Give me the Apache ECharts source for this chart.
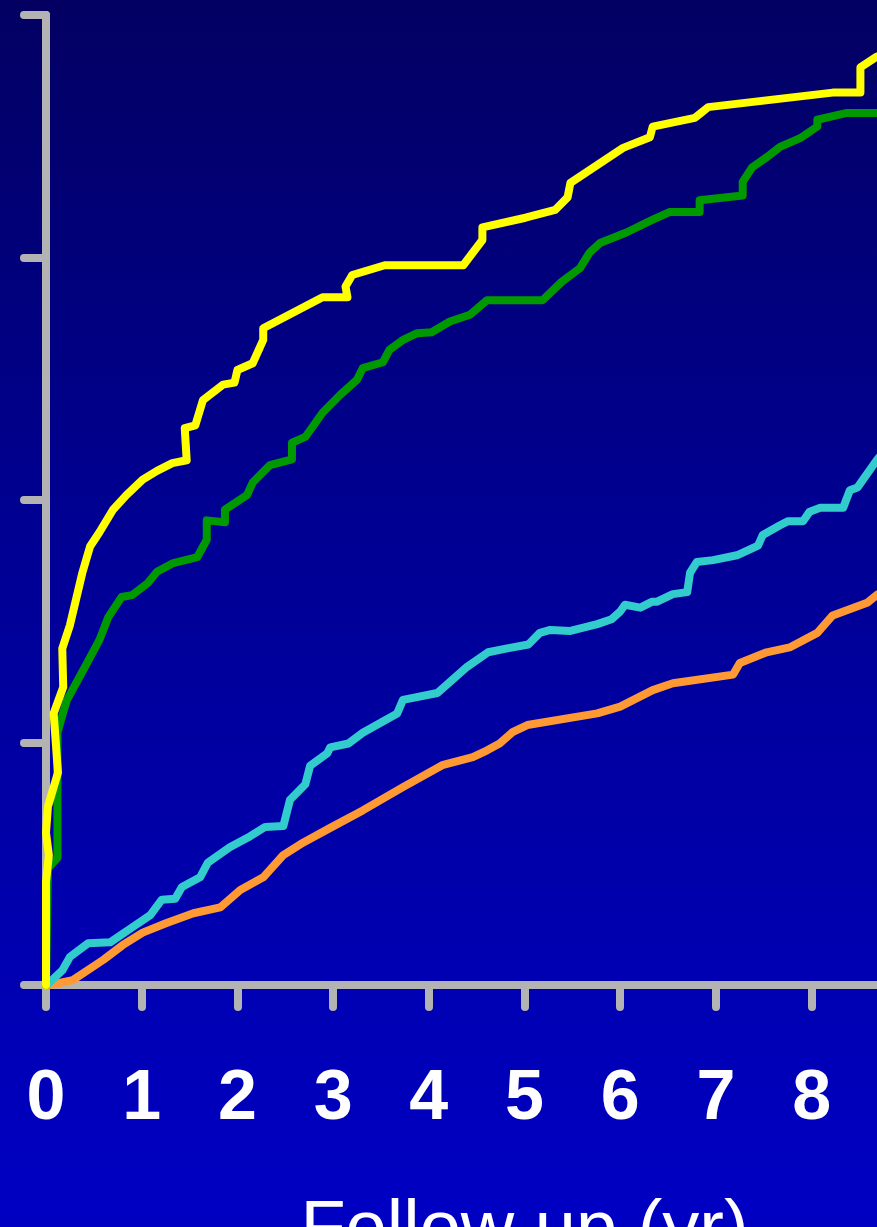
<!DOCTYPE html>
<html>
<head>
<meta charset="utf-8">
<script src="https://cdn.jsdelivr.net/npm/echarts@6/dist/echarts.min.js"></script>
<style>
  html, body { margin: 0; padding: 0; overflow: hidden; }
  #chart {
    width: 877px; height: 1227px;
    background: linear-gradient(to bottom, #030062 0%, #000090 40%, #0000c4 100%);
  }
</style>
</head>
<body>
<div id="chart"></div>
<script>
// Follow-up axis (years) and cumulative event rate (%)
const xTicks = ['0', '1', '2', '3', '4', '5', '6', '7', '8', '9', '10'];
const xAxisTitle = 'Follow up (yr)';

// Each curve: [year, percent]
const yellowCurve = [
  [0, 0], [0.0, 10.6], [0.03, 13.4], [0.0, 15.7], [0.02, 18.4], [0.125, 21.9],
  [0.08, 28.0], [0.18, 30.7], [0.17, 34.7], [0.25, 37.1], [0.38, 42.5],
  [0.46, 45.2], [0.56, 46.7], [0.70, 49.0], [0.84, 50.5], [1.01, 52.1],
  [1.16, 53.0], [1.32, 53.8], [1.47, 54.1], [1.45, 57.4], [1.56, 57.7],
  [1.64, 60.3], [1.85, 61.9], [1.97, 62.1], [2.0, 63.4], [2.16, 64.1],
  [2.27, 66.5], [2.27, 67.7], [2.89, 70.9], [3.15, 70.9], [3.13, 72.0],
  [3.20, 73.2], [3.54, 74.2], [4.36, 74.2], [4.56, 76.8], [4.56, 78.1],
  [5.01, 79.1], [5.32, 79.9], [5.45, 81.2], [5.48, 82.7], [6.03, 86.3],
  [6.31, 87.4], [6.34, 88.5], [6.78, 89.4], [6.92, 90.5], [8.22, 92.0],
  [8.51, 92.0], [8.51, 94.6], [8.68, 95.7], [9.0, 97.0]
];

const greenCurve = [
  [0, 0], [0.02, 12.0], [0.12, 13.1], [0.12, 26.0], [0.17, 27.8],
  [0.22, 29.4], [0.43, 33.2], [0.56, 35.6], [0.65, 37.9], [0.79, 40.0],
  [0.90, 40.2], [1.06, 41.4], [1.16, 42.6], [1.33, 43.5], [1.58, 44.1],
  [1.68, 45.9], [1.68, 47.9], [1.87, 47.7], [1.87, 49.0], [2.10, 50.5],
  [2.16, 51.8], [2.34, 53.6], [2.57, 54.2], [2.57, 55.9], [2.71, 56.5],
  [2.89, 59.0], [3.07, 60.8], [3.25, 62.4], [3.31, 63.6], [3.52, 64.2],
  [3.59, 65.5], [3.73, 66.5], [3.88, 67.2], [4.03, 67.3], [4.22, 68.4],
  [4.43, 69.1], [4.61, 70.6], [5.19, 70.6], [5.39, 72.5], [5.58, 73.9],
  [5.68, 75.5], [5.79, 76.5], [6.07, 77.6], [6.34, 78.9], [6.52, 79.7],
  [6.83, 79.7], [6.83, 80.9], [7.28, 81.4], [7.28, 82.8], [7.38, 84.3],
  [7.54, 85.4], [7.67, 86.4], [7.88, 87.3], [8.06, 88.5], [8.06, 89.2],
  [8.37, 89.9], [9.0, 89.9]
];

const cyanCurve = [
  [0.03, 0.2], [0.17, 1.5], [0.25, 2.9], [0.44, 4.3], [0.67, 4.4],
  [0.91, 6.0], [1.09, 7.2], [1.21, 8.8], [1.35, 8.9], [1.42, 10.1],
  [1.61, 11.1], [1.69, 12.6], [1.92, 14.2], [2.11, 15.2], [2.29, 16.3],
  [2.48, 16.4], [2.55, 19.1], [2.71, 20.7], [2.76, 22.6], [2.94, 23.9],
  [2.97, 24.5], [3.16, 24.9], [3.31, 26.0], [3.67, 28.0], [3.73, 29.4],
  [4.09, 30.1], [4.40, 32.8], [4.62, 34.3], [4.82, 34.7], [5.04, 35.1],
  [5.16, 36.3], [5.27, 36.6], [5.48, 36.5], [5.76, 37.2], [5.91, 37.7],
  [6.0, 38.5], [6.05, 39.2], [6.21, 38.9], [6.33, 39.5], [6.38, 39.5],
  [6.55, 40.3], [6.70, 40.5], [6.73, 42.5], [6.80, 43.6], [6.97, 43.8],
  [7.22, 44.3], [7.44, 45.3], [7.49, 46.4], [7.67, 47.4], [7.75, 47.8],
  [7.91, 47.8], [7.98, 48.8], [8.09, 49.2], [8.33, 49.2], [8.40, 51.0],
  [8.48, 51.3], [8.68, 54.1], [9.0, 58.0]
];

const orangeCurve = [
  [0.04, 0], [0.28, 0.5], [0.60, 2.6], [0.80, 4.1], [1.01, 5.4],
  [1.26, 6.4], [1.54, 7.4], [1.82, 8.0], [2.03, 9.8], [2.27, 11.1],
  [2.48, 13.4], [2.69, 14.7], [2.97, 16.2], [3.31, 18.0], [3.73, 20.4],
  [4.15, 22.7], [4.46, 23.5], [4.61, 24.2], [4.74, 24.9], [4.88, 26.1],
  [5.03, 26.8], [5.76, 28.0], [6.0, 28.7], [6.34, 30.4], [6.55, 31.1],
  [7.18, 32.0], [7.25, 33.2], [7.53, 34.3], [7.77, 34.8], [8.06, 36.3],
  [8.22, 38.1], [8.58, 39.4], [8.68, 40.2], [9.0, 42.0]
];

const axisGray = '#b3b3b3';

function curve(data, color) {
  return {
    type: 'line',
    data: data,
    symbol: 'none',
    smooth: false,
    animation: false,
    lineStyle: { color: color, width: 8, join: 'round', cap: 'round' }
  };
}

const chart = echarts.init(document.getElementById('chart'), null, { renderer: 'canvas' });
chart.setOption({
  backgroundColor: 'transparent',
  animation: false,
  grid: {
    left: 46, top: 15, width: 957, height: 970,
    containLabel: false,
    outerBoundsMode: 'none'
  },
  xAxis: {
    type: 'value',
    min: 0, max: 10, interval: 1,
    name: xAxisTitle,
    nameLocation: 'middle',
    nameGap: 210,
    nameTextStyle: { color: '#ffffff', fontSize: 74, fontFamily: 'Liberation Sans, Arial, sans-serif' },
    splitLine: { show: false },
    axisLine: { show: true, lineStyle: { color: axisGray, width: 8, cap: 'round' } },
    axisTick: { show: true, length: 22, lineStyle: { color: axisGray, width: 8, cap: 'round' } },
    axisLabel: {
      show: true,
      margin: 80,
      color: '#ffffff',
      fontSize: 70,
      fontWeight: 'bold',
      fontFamily: 'Liberation Sans, Arial, sans-serif',
      formatter: function (v) { return xTicks[Math.round(v)]; }
    }
  },
  yAxis: {
    type: 'value',
    min: 0, max: 100, interval: 25,
    splitLine: { show: false },
    axisLine: { show: true, lineStyle: { color: axisGray, width: 8, cap: 'round' } },
    axisTick: { show: true, length: 22, lineStyle: { color: axisGray, width: 8, cap: 'round' } },
    axisLabel: { show: false }
  },
  series: [
    curve(orangeCurve, '#ff9933'),
    curve(cyanCurve, '#33cccc'),
    curve(greenCurve, '#009900'),
    curve(yellowCurve, '#ffff00')
  ]
});
</script>
</body>
</html>
